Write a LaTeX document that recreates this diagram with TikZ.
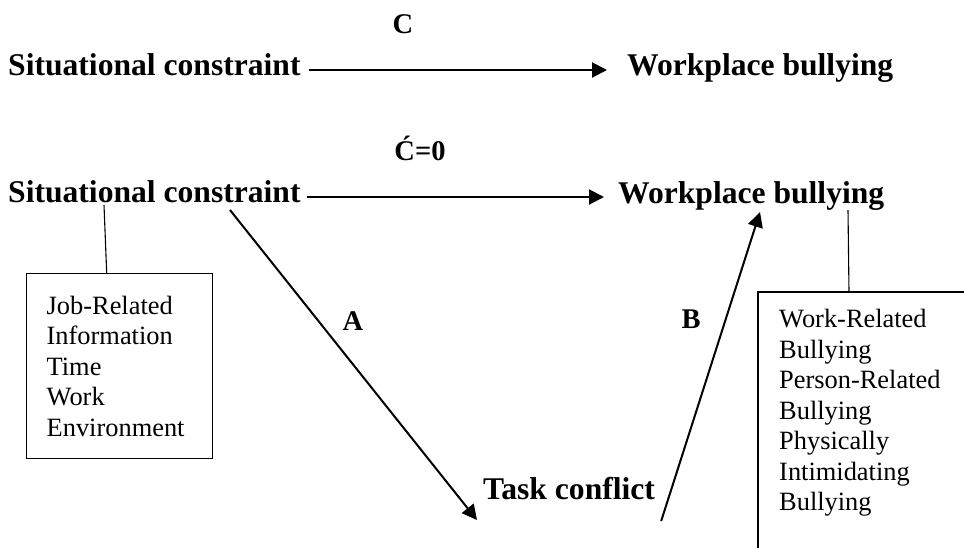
\documentclass[tikz,border=0pt]{standalone}
\usepackage{fontspec}
\setmainfont{Liberation Serif}
\usetikzlibrary{arrows.meta}
\begin{document}
\begin{tikzpicture}[x=1pt,y=-1pt,
  lbl/.style={font=\fontsize{31.6}{36}\selectfont\bfseries, inner sep=0pt, anchor=base west},
  coef/.style={font=\fontsize{28.5}{34}\selectfont\bfseries, inner sep=0pt, anchor=base},
  boxtext/.style={font=\fontsize{26.4}{30.5}\selectfont, align=left, inner xsep=20pt},
  arr/.style={line width=2pt, -{Triangle[length=15pt,width=15pt]}},
  thinline/.style={line width=1.1pt},
  frame/.style={line width=1.4pt}]
\useasboundingbox (0,0) rectangle (964,547);
% top model
\node[lbl] (sc1) at (8,75) {Situational constraint};
\node[lbl] (wb1) at (627,75) {Workplace bullying};
\node[coef] (c) at (403,33) {C};
\draw[arr] ([xshift=8pt,yshift=5pt]sc1.base east) -- ([xshift=-20pt,yshift=5pt]wb1.base west);
% mediated model
\node[lbl] (sc2) at (8,202) {Situational constraint};
\node[lbl] (wb2) at (618,203) {Workplace bullying};
\node[coef] (c0) at (420,160) {Ć=0};
\draw[arr] ([xshift=6pt,yshift=5pt]sc2.base east) -- ([xshift=-14pt,yshift=6pt]wb2.base west);
\node[lbl] (tc) at (483,499) {Task conflict};
\node[coef] (a) at (353,330) {A};
\node[coef] (b) at (691,328) {B};
\draw[arr] ([xshift=222pt,yshift=-8pt]sc2.base west) -- ([xshift=-6pt,yshift=-21pt]tc.base west);
\draw[arr] ([xshift=6pt,yshift=-22pt]tc.base east) -- ([xshift=142pt,yshift=-9pt]wb2.base west);
% left box
\node[boxtext, frame, draw, anchor=north west, text width=146pt, minimum height=185pt] (box1) at (26,273)
  {Job-Related\\Information\\Time\\Work\\Environment};
\draw[thinline] ([xshift=96pt,yshift=-3pt]sc2.base west) -- ([xshift=-13pt]box1.north);
% right box
\node[boxtext, anchor=north west, inner xsep=21pt, inner ysep=17pt, text width=180pt] (box2) at (758,292)
  {Work-Related\\Bullying\\Person-Related\\Bullying\\Physically\\Intimidating\\Bullying};
\draw[frame] (box2.north west) rectangle ([yshift=-60pt]box2.south east);
\draw[thinline] ([xshift=230pt,yshift=-7pt]wb2.base west) -- ([xshift=91pt]box2.north west);
\end{tikzpicture}
\end{document}
